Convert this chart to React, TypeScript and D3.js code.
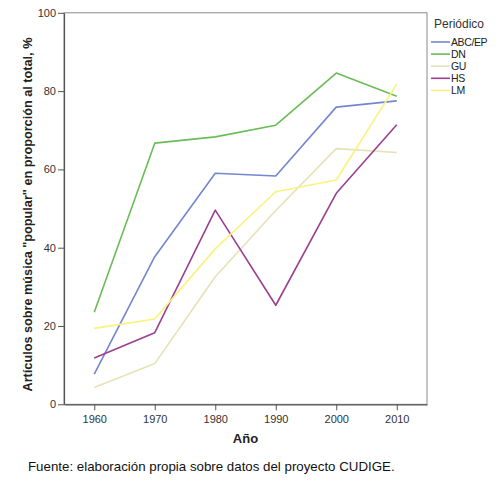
import React, { useEffect, useRef } from "react";
import * as d3 from "d3";

const W = 500;
const H = 491;

const years = [1960, 1970, 1980, 1990, 2000, 2010];
const seriesNames = ["ABC/EP", "DN", "GU", "HS", "LM"];
const abcEp = [7.7, 37.7, 59.0, 58.3, 75.9, 77.5];
const dn = [23.5, 66.7, 68.3, 71.3, 84.6, 78.7];
const gu = [4.3, 10.4, 32.6, 49.5, 65.3, 64.3];
const hs = [11.8, 18.3, 49.6, 25.3, 53.9, 71.4];
const lm = [19.4, 21.8, 39.7, 54.3, 57.3, 81.8];
const yTicks = [0, 20, 40, 60, 80, 100];
const colors = ["#7486cf", "#6bbb58", "#e6e2b6", "#9b3f90", "#f9f37c"];

const FONT = "'Liberation Sans', Arial, sans-serif";

export default function App() {
  const svgRef = useRef<SVGSVGElement>(null);

  useEffect(() => {
    const svg = d3.select(svgRef.current);
    svg.selectAll("*").remove();

    const frame = { left: 64, right: 427, top: 12.8, bottom: 404.3 };
    const x = d3.scaleLinear().domain([1955, 2015]).range([frame.left, frame.right]);
    const y = d3.scaleLinear().domain([0, 100]).range([frame.bottom, frame.top]);

    const all = [abcEp, dn, gu, hs, lm];

    // marco
    svg
      .append("rect")
      .attr("x", frame.left)
      .attr("y", frame.top)
      .attr("width", frame.right - frame.left)
      .attr("height", frame.bottom - frame.top)
      .attr("fill", "none")
      .attr("stroke", "#8a8a8a")
      .attr("stroke-width", 1);

    // ejes
    const gy = svg.append("g").attr("transform", `translate(${frame.left},0)`);
    gy.call(d3.axisLeft(y).tickValues(yTicks).tickSizeInner(6).tickSizeOuter(0).tickPadding(2));
    const gx = svg.append("g").attr("transform", `translate(0,${frame.bottom})`);
    gx.call(
      d3
        .axisBottom(x)
        .tickValues(years)
        .tickSizeInner(6)
        .tickSizeOuter(0)
        .tickPadding(5)
        .tickFormat(d3.format("d"))
    );
    [gx, gy].forEach((g) => {
      g.select(".domain").attr("stroke", "#555").attr("stroke-width", 1.2);
      g.selectAll(".tick line").attr("stroke", "#555");
      g.selectAll(".tick text")
        .attr("fill", "#333")
        .attr("font-family", FONT)
        .attr("font-size", 11);
    });

    // líneas
    const line = d3
      .line<number>()
      .x((_, i) => x(years[i]))
      .y((d) => y(d));
    all.forEach((vals, k) => {
      svg
        .append("path")
        .attr("d", line(vals))
        .attr("fill", "none")
        .attr("stroke", colors[k])
        .attr("stroke-width", 1.6)
        .attr("stroke-linejoin", "round");
    });

    // títulos
    svg
      .append("text")
      .attr("transform", `translate(32,${(frame.top + frame.bottom) / 2 + 6}) rotate(-90)`)
      .attr("text-anchor", "middle")
      .attr("font-family", FONT)
      .attr("font-size", 12.7)
      .attr("font-weight", "bold")
      .attr("fill", "#222")
      .text('Artículos sobre música "popular" en proporción al total, %');

    svg
      .append("text")
      .attr("x", x(1985))
      .attr("y", 443)
      .attr("text-anchor", "middle")
      .attr("font-family", FONT)
      .attr("font-size", 13)
      .attr("font-weight", "bold")
      .attr("fill", "#222")
      .text("Año");

    svg
      .append("text")
      .attr("x", 28)
      .attr("y", 471)
      .attr("font-family", FONT)
      .attr("font-size", 13.3)
      .attr("fill", "#111")
      .text("Fuente: elaboración propia sobre datos del proyecto CUDIGE.");

    // leyenda
    const lg = svg.append("g").attr("font-family", FONT);
    lg.append("text")
      .attr("x", 434)
      .attr("y", 27.5)
      .attr("font-size", 12)
      .attr("fill", "#333")
      .text("Periódico");
    seriesNames.forEach((name, k) => {
      const ly = 42 + k * 12.1;
      lg.append("line")
        .attr("x1", 431)
        .attr("x2", 450)
        .attr("y1", ly)
        .attr("y2", ly)
        .attr("stroke", colors[k])
        .attr("stroke-width", 1.6);
      lg.append("text")
        .attr("x", 451)
        .attr("y", ly + 3.8)
        .attr("font-size", 10.5)
        .attr("letter-spacing", -0.4)
        .attr("fill", "#222")
        .text(name);
    });
  }, []);

  return (
    <svg
      ref={svgRef}
      width={W}
      height={H}
      style={{ position: "absolute", left: 0, top: 0, background: "#fff" }}
    />
  );
}
